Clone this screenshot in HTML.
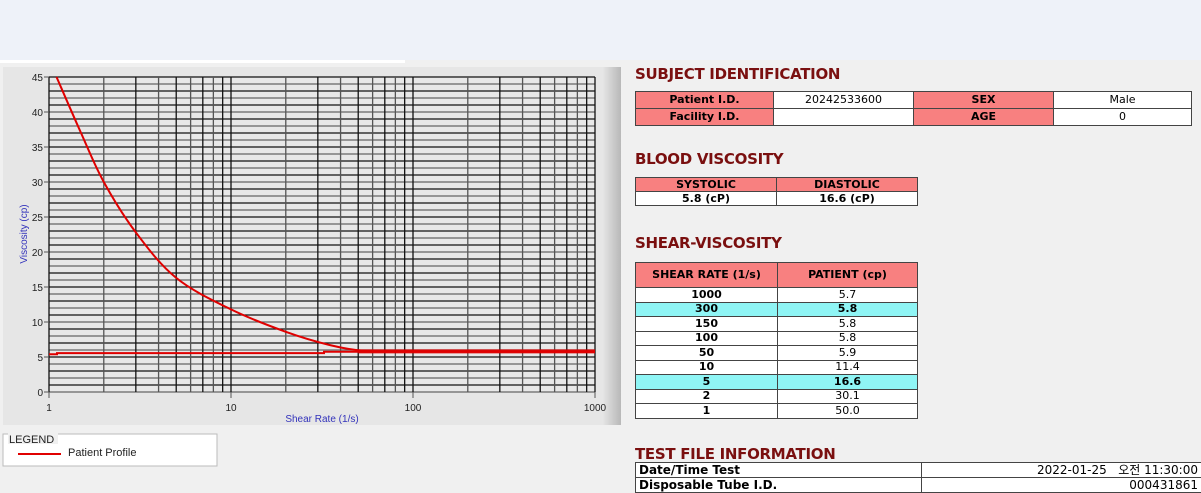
<!DOCTYPE html>
<html><head><meta charset="utf-8"><style>
body{margin:0;width:1201px;height:492px;background:#f0f0f0;position:relative;overflow:hidden;font-family:"Liberation Sans","Noto Sans CJK KR",sans-serif}
.top{position:absolute;left:0;top:0;width:1201px;height:60px;background:#eef2f9}
.ttl{position:absolute;left:635px;color:#7a0f0f;font-weight:bold;font-size:15px;font-family:"DejaVu Sans",sans-serif;letter-spacing:-0.3px}
table{position:absolute;border-collapse:collapse;font-family:"DejaVu Sans",sans-serif;font-size:11px}
td{border:1px solid #444;text-align:center;padding:0;line-height:12px}
.h{background:#f88080;font-weight:bold}
.w{background:#fff}
.c{background:#8ff5f5;font-weight:bold}
</style></head><body>
<div class="top"></div>
<div style="position:absolute;left:0;top:60px;width:405px;height:3px;background:#fff"></div>
<svg style="position:absolute;left:0;top:0" width="630" height="492" id="s">
<defs><linearGradient id="g" x1="0" x2="1"><stop offset="0" stop-color="#e6e6e6"/><stop offset="0.97" stop-color="#e6e6e6"/><stop offset="1" stop-color="#b8b8b8"/></linearGradient></defs>
<rect x="3" y="67" width="618" height="358" fill="url(#g)"/>
<rect x="49" y="77" width="546" height="315" fill="#e8e8e8"/>
<g id="grid"></g>
<rect x="3" y="434" width="214" height="32" fill="#fff" stroke="#bbb"/>
<rect x="8" y="432" width="50" height="12" fill="#f0f0f0"/>
<text x="9" y="443" font-size="11" fill="#222">LEGEND</text>
<line x1="18" y1="454" x2="61" y2="454" stroke="#e00000" stroke-width="2"/>
<text x="68" y="456" font-size="11" fill="#222">Patient Profile</text>
<text x="322" y="422" font-size="10" fill="#3333bb" text-anchor="middle">Shear Rate (1/s)</text>
<text transform="translate(27,234) rotate(-90)" font-size="10" fill="#3333bb" text-anchor="middle">Viscosity (cp)</text>
</svg>
<script>
var g=document.getElementById('grid'),h='';
function X(v){return 49+182*Math.log10(v)}
function Y(v){return 392-7*v}
for(var i=0;i<=45;i++){var y=Y(i);h+='<line x1="49" x2="595" y1="'+y+'" y2="'+y+'" stroke="'+(i%2?'#111':'#666')+'" stroke-width="1.3"/>';}
for(var d=1;d<=100;d*=10)for(var k=1;k<10;k++){var x=X(d*k);h+='<line y1="77" y2="392" x1="'+x+'" x2="'+x+'" stroke="'+(k%2?'#111':'#555')+'" stroke-width="1.3"/>';}
h+='<line y1="77" y2="392" x1="595" x2="595" stroke="#111" stroke-width="1.3"/>';
for(var i=0;i<=45;i+=5){var y=Y(i);h+='<line x1="44" x2="49" y1="'+y+'" y2="'+y+'" stroke="#555"/><text x="43" y="'+(y+4)+'" font-size="10" text-anchor="end" fill="#222">'+i+'</text>';}
[1,10,100,1000].forEach(function(v){var x=X(v);h+='<line x1="'+x+'" x2="'+x+'" y1="392" y2="398" stroke="#555"/><text x="'+x+'" y="411" font-size="10" text-anchor="middle" fill="#222">'+v+'</text>';});
var pts=[[1.1,45],[1.5,37],[2,30],[3,22.8],[5,16.3],[10,11.8],[20,8.6],[35,6.7],[55,5.85],[100,5.8],[1000,5.75]].map(function(a){return [X(a[0]),Y(a[1])]});
var p='M'+pts[0][0]+','+pts[0][1];
for(var i=0;i<pts.length-1;i++){var p0=pts[Math.max(0,i-1)],p1=pts[i],p2=pts[i+1],p3=pts[Math.min(pts.length-1,i+2)];
p+='C'+(p1[0]+(p2[0]-p0[0])/6)+','+(p1[1]+(p2[1]-p0[1])/6)+' '+(p2[0]-(p3[0]-p1[0])/6)+','+(p2[1]-(p3[1]-p1[1])/6)+' '+p2[0]+','+p2[1];}
h+='<path d="'+p+'" fill="none" stroke="#e00000" stroke-width="2"/>';
h+='<path d="M49,'+Y(5.4)+'L57,'+Y(5.4)+'L57,'+Y(5.55)+'L324,'+Y(5.55)+'L324,'+Y(5.75)+'L595,'+Y(5.75)+'" fill="none" stroke="#e00000" stroke-width="2"/>';
h+='<line x1="'+X(50)+'" x2="595" y1="'+Y(5.8)+'" y2="'+Y(5.8)+'" stroke="#e00000" stroke-width="4" opacity="0.9"/>';
g.innerHTML=h;
</script>
<div class="ttl" style="top:65px">SUBJECT IDENTIFICATION</div>
<table style="left:635px;top:91px;width:557px"><tr style="height:17px"><td class="h" style="width:137px">Patient I.D.</td><td class="w" style="width:139px">20242533600</td><td class="h" style="width:139px">SEX</td><td class="w">Male</td></tr>
<tr style="height:17px"><td class="h">Facility I.D.</td><td class="w"></td><td class="h">AGE</td><td class="w">0</td></tr></table>
<div class="ttl" style="top:150px">BLOOD VISCOSITY</div>
<table style="left:635px;top:177px;width:283px;font-weight:bold"><tr style="height:14px"><td class="h" style="width:140px">SYSTOLIC</td><td class="h">DIASTOLIC</td></tr>
<tr style="height:14px"><td class="w">5.8 (cP)</td><td class="w">16.6 (cP)</td></tr></table>
<div class="ttl" style="top:234px">SHEAR-VISCOSITY</div>
<table style="left:635px;top:262px;width:283px">
<tr style="height:25px"><td class="h" style="width:141px">SHEAR RATE (1/s)</td><td class="h">PATIENT (cp)</td></tr>
<tr style="height:14.5px"><td class="w" style="font-weight:bold">1000</td><td class="w">5.7</td></tr>
<tr style="height:14.5px"><td class="c">300</td><td class="c">5.8</td></tr>
<tr style="height:14.5px"><td class="w" style="font-weight:bold">150</td><td class="w">5.8</td></tr>
<tr style="height:14.5px"><td class="w" style="font-weight:bold">100</td><td class="w">5.8</td></tr>
<tr style="height:14.5px"><td class="w" style="font-weight:bold">50</td><td class="w">5.9</td></tr>
<tr style="height:14.5px"><td class="w" style="font-weight:bold">10</td><td class="w">11.4</td></tr>
<tr style="height:14.5px"><td class="c">5</td><td class="c">16.6</td></tr>
<tr style="height:14.5px"><td class="w" style="font-weight:bold">2</td><td class="w">30.1</td></tr>
<tr style="height:14.5px"><td class="w" style="font-weight:bold">1</td><td class="w">50.0</td></tr></table>
<div class="ttl" style="top:445px">TEST FILE INFORMATION</div>
<table style="left:635px;top:462px;width:570px;font-size:12px">
<tr style="height:15px"><td class="w" style="width:282px;text-align:left;font-weight:bold;padding-left:3px">Date/Time Test</td><td class="w" style="text-align:right;padding-right:6px">2022-01-25&nbsp;&nbsp;&nbsp;오전 11:30:00</td></tr>
<tr style="height:15px"><td class="w" style="text-align:left;font-weight:bold;padding-left:3px">Disposable Tube I.D.</td><td class="w" style="text-align:right;padding-right:6px">000431861</td></tr></table>
</body></html>
